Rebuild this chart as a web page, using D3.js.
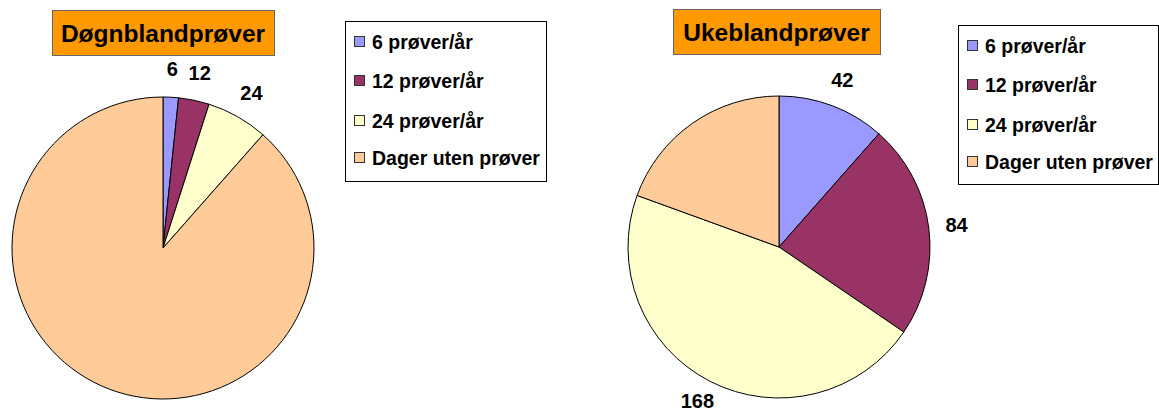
<!DOCTYPE html>
<html><head><meta charset="utf-8">
<script src="https://cdn.jsdelivr.net/npm/d3@7"></script>
<style>body{margin:0;background:#fff}svg{display:block}text{font-family:"Liberation Sans",Arial,sans-serif;font-weight:bold}</style>
</head><body>
<script>
const categories = ["6 prøver/år","12 prøver/år","24 prøver/år","Dager uten prøver"];
const colors = ["#9999FF","#993366","#FFFFCC","#FFCC99"];
const dognValues = [6,12,24,323];
const ukeValues = [42,84,168,71];
const dognLabels = ["6","12","24",null];
const ukeLabels = ["42","84","168",null];
const titles = ["Døgnblandprøver","Ukeblandprøver"];

const W=1159,H=412;
const svg=d3.select("body").append("svg").attr("width",W).attr("height",H);

const charts=[
 {values:dognValues,labels:dognLabels,title:titles[0],cx:163,cy:248,r:151,tb:[52,10,222,45],lg:[345,21,201,160]},
 {values:ukeValues,labels:ukeLabels,title:titles[1],cx:779,cy:247,r:151,tb:[673,9,207,45],lg:[958,25,200,159]}
];
const pie=d3.pie().sort(null).value(d=>d);
charts.forEach(c=>{
  const g=svg.append("g").attr("transform",`translate(${c.cx},${c.cy})`);
  const arc=d3.arc().innerRadius(0).outerRadius(c.r);
  const arcs=pie(c.values);
  g.selectAll("path").data(arcs).join("path").attr("d",arc)
   .attr("fill",(d,i)=>colors[i]).attr("stroke","#000").attr("stroke-width",1);
  const la=d3.arc().innerRadius(c.r+28).outerRadius(c.r+28);
  g.selectAll("text.lbl").data(arcs.filter((d,i)=>c.labels[i])).join("text")
   .attr("class","lbl")
   .attr("transform",d=>{const [x,y]=la.centroid(d);return `translate(${x},${Math.min(y,H-11-c.cy)})`;})
   .attr("text-anchor","middle").attr("dy","0.36em")
   .attr("font-size",20).text(d=>c.labels[d.index]);
  // title
  const [tx,ty,tw,th]=c.tb;
  svg.append("rect").attr("x",tx+0.5).attr("y",ty+0.5).attr("width",tw).attr("height",th)
   .attr("fill","#FF9900").attr("stroke","#666").attr("stroke-width",1);
  svg.append("text").attr("x",tx+tw/2).attr("y",ty+th/2+1).attr("dy","0.36em")
   .attr("text-anchor","middle").attr("font-size",24.5).text(c.title);
  // legend
  const [lx,ly,lw,lh]=c.lg;
  svg.append("rect").attr("x",lx+0.5).attr("y",ly+0.5).attr("width",lw).attr("height",lh)
   .attr("fill","#fff").attr("stroke","#000").attr("stroke-width",1);
  const step=[21,60,100,137];
  categories.forEach((cat,i)=>{
    const y=ly+step[i];
    svg.append("rect").attr("x",lx+9.5).attr("y",y-5.5).attr("width",10).attr("height",10)
      .attr("fill",colors[i]).attr("stroke","#333").attr("stroke-width",1);
    svg.append("text").attr("x",lx+27).attr("y",y).attr("dy","0.36em")
      .attr("font-size",19.5).text(cat);
  });
});
</script>
</body></html>
